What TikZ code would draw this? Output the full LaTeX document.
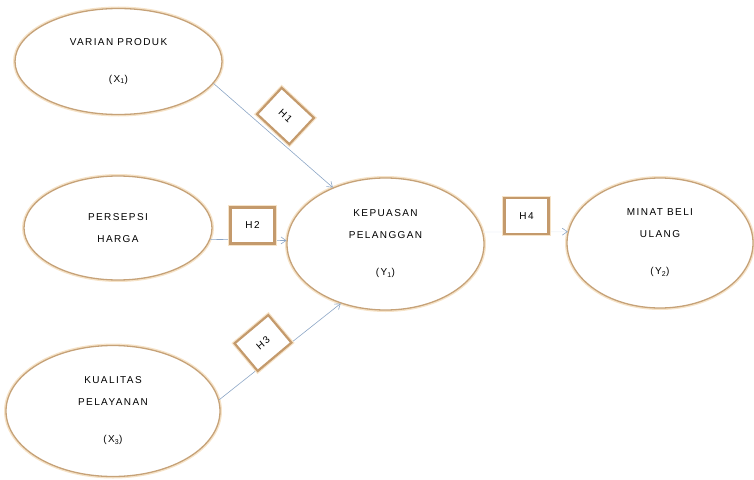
\documentclass[tikz,border=0pt]{standalone}
\usepackage{fontspec}
\setmainfont{Liberation Sans}[LetterSpace=14]
\usetikzlibrary{arrows.meta,shapes.geometric}
\definecolor{ring}{HTML}{C6A278}
\definecolor{glow}{HTML}{F6E3C8}
\definecolor{boxline}{HTML}{C49A6C}
\definecolor{arr}{HTML}{8CA6C6}
\tikzset{
  var/.style={ellipse, draw=ring, line width=1.3pt, fill=white, inner sep=0pt,
    align=center, font=\fontsize{10}{22}\selectfont,
    preaction={draw=glow, line width=4pt}},
  hbox/.style={draw=boxline, line width=2.2pt, fill=white, inner sep=0pt,
    minimum width=44pt, minimum height=36pt, font=\fontsize{10}{12}\selectfont,
    preaction={draw=glow, line width=4.5pt}},
  link/.style={draw=arr, line width=0.6pt, -{Straight Barb[length=5pt,width=7pt]}},
}
\begin{document}
\begin{tikzpicture}[x=1pt,y=-1pt]
\useasboundingbox (0,0) rectangle (754,479);
\node[var, minimum width=207pt, minimum height=106pt] (varian) at (118.5,61.5)
  {VARIAN  PRODUK\\[15pt](X\textsubscript{1})};
\node[var, minimum width=188pt, minimum height=104pt] (persepsi) at (118,228)
  {PERSEPSI\\HARGA};
\node[var, minimum width=214pt, minimum height=131pt] (kualitas) at (113,411)
  {KUALITAS\\PELAYANAN\\[15pt](X\textsubscript{3})};
\node[var, minimum width=197pt, minimum height=132pt] (kepuasan) at (385.5,244)
  {KEPUASAN\\PELANGGAN\\[15pt](Y\textsubscript{1})};
\node[var, minimum width=186pt, minimum height=130pt] (minat) at (660,243)
  {MINAT BELI\\ULANG\\[15pt](Y\textsubscript{2})};
\draw[link] (varian.-13) -- (kepuasan.133);
\draw[link] (persepsi.-7) -- (kepuasan.178);
\draw[link] (kualitas.6) -- (kepuasan.-127);
\draw[draw=arr!12, line width=0.6pt, -{Straight Barb[length=5pt,width=7pt,color=arr]}] (kepuasan.7) -- (minat.173);
\node[hbox, rotate=-43] (h1) at (285.5,116) {H1};
\node[hbox] (h2) at (252.5,225.5) {H2};
\node[hbox, rotate=40] (h3) at (263,343) {H3};
\node[hbox] (h4) at (526.5,216) {H4};
\end{tikzpicture}
\end{document}
